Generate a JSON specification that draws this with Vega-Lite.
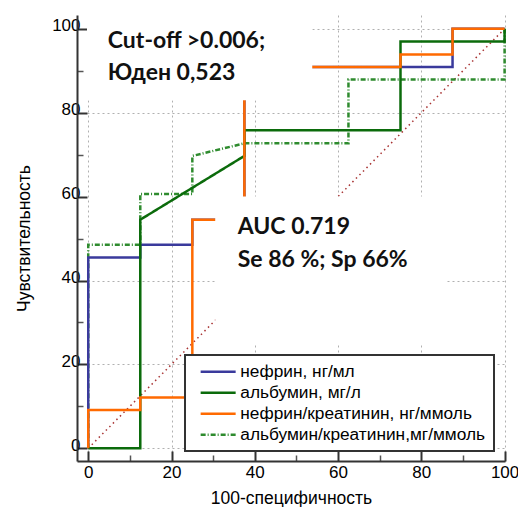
{
  "$schema": "https://vega.github.io/schema/vega-lite/v6.json",
  "width": 428,
  "height": 446,
  "autosize": {"type": "none"},
  "padding": {"left": 77, "top": 15, "right": 13, "bottom": 46},
  "background": "white",
  "config": {
    "view": {"stroke": null},
    "axis": {"labelFontSize": 17, "labelFont": "Liberation Sans", "titleFontSize": 17.5, "titleFont": "Liberation Sans"}
  },
  "datasets": {
    "roc": [
      {"series": "нефрин, нг/мл", "i": 1, "x": 0, "y": 0},
      {"series": "нефрин, нг/мл", "i": 2, "x": 0, "y": 45.5},
      {"series": "нефрин, нг/мл", "i": 3, "x": 12.5, "y": 45.5},
      {"series": "нефрин, нг/мл", "i": 4, "x": 12.5, "y": 48.5},
      {"series": "нефрин, нг/мл", "i": 5, "x": 25, "y": 48.5},
      {"series": "нефрин, нг/мл", "i": 6, "x": 25, "y": 54.5},
      {"series": "нефрин, нг/мл", "i": 7, "x": 37.5, "y": 54.5},
      {"series": "нефрин, нг/мл", "i": 8, "x": 37.5, "y": 90.9},
      {"series": "нефрин, нг/мл", "i": 9, "x": 75, "y": 90.9},
      {"series": "нефрин, нг/мл", "i": 10, "x": 87.5, "y": 90.9},
      {"series": "нефрин, нг/мл", "i": 11, "x": 87.5, "y": 93.9},
      {"series": "нефрин, нг/мл", "i": 12, "x": 87.5, "y": 100},
      {"series": "нефрин, нг/мл", "i": 13, "x": 100, "y": 100},
      {"series": "альбумин, мг/л", "i": 1, "x": 0, "y": 0},
      {"series": "альбумин, мг/л", "i": 2, "x": 12.5, "y": 0},
      {"series": "альбумин, мг/л", "i": 3, "x": 12.5, "y": 54.5},
      {"series": "альбумин, мг/л", "i": 4, "x": 37.5, "y": 69.7},
      {"series": "альбумин, мг/л", "i": 5, "x": 37.5, "y": 75.8},
      {"series": "альбумин, мг/л", "i": 6, "x": 75, "y": 75.8},
      {"series": "альбумин, мг/л", "i": 7, "x": 75, "y": 97},
      {"series": "альбумин, мг/л", "i": 8, "x": 100, "y": 97},
      {"series": "альбумин, мг/л", "i": 9, "x": 100, "y": 100},
      {"series": "нефрин/креатинин, нг/ммоль", "i": 1, "x": 0, "y": 0},
      {"series": "нефрин/креатинин, нг/ммоль", "i": 2, "x": 0, "y": 9.1},
      {"series": "нефрин/креатинин, нг/ммоль", "i": 3, "x": 12.5, "y": 9.1},
      {"series": "нефрин/креатинин, нг/ммоль", "i": 4, "x": 12.5, "y": 12.1},
      {"series": "нефрин/креатинин, нг/ммоль", "i": 5, "x": 25, "y": 12.1},
      {"series": "нефрин/креатинин, нг/ммоль", "i": 6, "x": 25, "y": 54.5},
      {"series": "нефрин/креатинин, нг/ммоль", "i": 7, "x": 37.5, "y": 54.5},
      {"series": "нефрин/креатинин, нг/ммоль", "i": 8, "x": 37.5, "y": 90.9},
      {"series": "нефрин/креатинин, нг/ммоль", "i": 9, "x": 75, "y": 90.9},
      {"series": "нефрин/креатинин, нг/ммоль", "i": 10, "x": 75, "y": 93.9},
      {"series": "нефрин/креатинин, нг/ммоль", "i": 11, "x": 87.5, "y": 93.9},
      {"series": "нефрин/креатинин, нг/ммоль", "i": 12, "x": 87.5, "y": 100},
      {"series": "нефрин/креатинин, нг/ммоль", "i": 13, "x": 100, "y": 100},
      {"series": "альбумин/креатинин,мг/ммоль", "i": 1, "x": 0, "y": 0},
      {"series": "альбумин/креатинин,мг/ммоль", "i": 2, "x": 0, "y": 48.5},
      {"series": "альбумин/креатинин,мг/ммоль", "i": 3, "x": 12.5, "y": 48.5},
      {"series": "альбумин/креатинин,мг/ммоль", "i": 4, "x": 12.5, "y": 60.6},
      {"series": "альбумин/креатинин,мг/ммоль", "i": 5, "x": 25, "y": 60.6},
      {"series": "альбумин/креатинин,мг/ммоль", "i": 6, "x": 25, "y": 69.7},
      {"series": "альбумин/креатинин,мг/ммоль", "i": 7, "x": 37.5, "y": 72.7},
      {"series": "альбумин/креатинин,мг/ммоль", "i": 8, "x": 62.5, "y": 72.7},
      {"series": "альбумин/креатинин,мг/ммоль", "i": 9, "x": 62.5, "y": 87.9},
      {"series": "альбумин/креатинин,мг/ммоль", "i": 10, "x": 100, "y": 87.9},
      {"series": "альбумин/креатинин,мг/ммоль", "i": 11, "x": 100, "y": 100}
    ],
    "diag": [
      {"x": 0, "y": 0},
      {"x": 100, "y": 100}
    ],
    "notes": [
      {"label": "Cut-off >0.006;"},
      {"label": "Юден 0,523"},
      {"label": "AUC 0.719"},
      {"label": "Se 86 %; Sp 66%"}
    ]
  },
  "layer": [
    {
      "data": {"name": "diag"},
      "mark": {"type": "line", "stroke": "#a83232", "strokeWidth": 1.5, "strokeDash": [1.5, 3.5]},
      "encoding": {
        "x": {
          "field": "x", "type": "quantitative",
          "scale": {"domain": [-2.7, 100.1], "nice": false, "zero": false},
          "axis": {
            "title": "100-специфичность",
            "titleFont": "Liberation Sans",
            "titleFontSize": 17.5,
            "titleFontWeight": "normal",
            "titleColor": "#000000",
            "labelFont": "Liberation Sans",
            "labelFontSize": 17,
            "labelColor": "#000000",
            "domainColor": "#333333",
            "domainWidth": 2,
            "gridColor": "#b0b0b0",
            "gridDash": [2, 3],
            "gridWidth": 1,
            "values": [0,5,10,15,20,25,30,35,40,45,50,55,60,65,70,75,80,85,90,95,100],
            "labelExpr": "datum.value % 20 === 0 ? datum.label : ''",
            "labelOverlap": false,
            "labelFlush": false,
            "tickSize": {"condition": {"test": "datum.value % 20 === 0", "value": -10}, "value": -6},
            "tickColor": {"condition": {"test": "datum.value % 20 === 0", "value": "#333333"}, "value": "#555555"},
            "tickWidth": {"condition": {"test": "datum.value % 20 === 0", "value": 2}, "value": 1.5},
            "gridOpacity": {"condition": {"test": "datum.value % 20 === 0", "value": 1}, "value": 0},
            "labelPadding": 13,
            "titlePadding": 5,
            "encode": {"labels": {"update": {"fontSize": {"value": 17}, "font": {"value": "Liberation Sans"}}}}
          }
        },
        "y": {
          "field": "y", "type": "quantitative",
          "scale": {"domain": [-3.03, 103.3], "nice": false, "zero": false},
          "axis": {
            "title": "Чувствительность",
            "titleFont": "Liberation Sans",
            "titleFontSize": 17.5,
            "titleFontWeight": "normal",
            "titleColor": "#000000",
            "labelFont": "Liberation Sans",
            "labelFontSize": 17,
            "labelColor": "#000000",
            "domainColor": "#333333",
            "domainWidth": 2,
            "gridColor": "#b0b0b0",
            "gridDash": [2, 3],
            "gridWidth": 1,
            "values": [0,5,10,15,20,25,30,35,40,45,50,55,60,65,70,75,80,85,90,95,100],
            "labelExpr": "datum.value % 20 === 0 ? datum.label : ''",
            "labelOverlap": false,
            "labelFlush": false,
            "labelOffset": -3,
            "tickSize": {"condition": {"test": "datum.value % 20 === 0", "value": -10}, "value": -6},
            "tickColor": {"condition": {"test": "datum.value % 20 === 0", "value": "#333333"}, "value": "#555555"},
            "tickWidth": {"condition": {"test": "datum.value % 20 === 0", "value": 2}, "value": 1.5},
            "gridOpacity": {"condition": {"test": "datum.value % 20 === 0 && datum.value !== 60", "value": 1}, "value": 0},
            "labelPadding": 7,
            "titlePadding": 18,
            "encode": {"labels": {"update": {"fontSize": {"value": 17}, "font": {"value": "Liberation Sans"}}}}
          }
        }
      }
    },
    {
      "data": {"name": "roc"},
      "transform": [{"filter": "datum.series === 'альбумин/креатинин,мг/ммоль'"}],
      "mark": {"type": "line"},
      "encoding": {
        "x": {"field": "x", "type": "quantitative", "title": "100-специфичность"},
        "y": {"field": "y", "type": "quantitative", "title": "Чувствительность"},
        "order": {"field": "i", "type": "quantitative"},
        "color": {
          "field": "series", "type": "nominal",
          "scale": {
            "domain": ["нефрин, нг/мл", "альбумин, мг/л", "нефрин/креатинин, нг/ммоль", "альбумин/креатинин,мг/ммоль"],
            "range": ["#3a3a9c", "#0b6b0b", "#ff6a00", "#2e8b2e"]
          },
          "legend": {
            "title": null,
            "orient": "none",
            "legendX": 108,
            "legendY": 340,
            "padding": 8,
            "fillColor": "white",
            "strokeColor": "#333333",
            "labelFont": "Liberation Sans",
            "labelFontSize": 17.3,
            "labelColor": "#000000",
            "labelLimit": 400,
            "symbolType": "M-0.2,0H6.8",
            "symbolSize": 100,
            "labelOffset": 30,
            "rowPadding": 3,
            "zindex": 2,
            "encode": {"legend": {"update": {"strokeWidth": {"value": 2}}}}
          }
        },
        "strokeDash": {
          "field": "series", "type": "nominal",
          "scale": {
            "domain": ["нефрин, нг/мл", "альбумин, мг/л", "нефрин/креатинин, нг/ммоль", "альбумин/креатинин,мг/ммоль"],
            "range": [[1, 0], [1, 0], [1, 0], [5, 2, 1, 2]]
          }
        },
        "strokeWidth": {
          "field": "series", "type": "nominal",
          "scale": {
            "domain": ["нефрин, нг/мл", "альбумин, мг/л", "нефрин/креатинин, нг/ммоль", "альбумин/креатинин,мг/ммоль"],
            "range": [2.5, 2.5, 3, 1.2]
          }
        }
      }
    },
    {
      "data": {"name": "roc"},
      "transform": [{"filter": "datum.series === 'нефрин, нг/мл'"}],
      "mark": {"type": "line"},
      "encoding": {
        "x": {"field": "x", "type": "quantitative", "title": "100-специфичность"},
        "y": {"field": "y", "type": "quantitative", "title": "Чувствительность"},
        "order": {"field": "i", "type": "quantitative"},
        "color": {"field": "series", "type": "nominal"},
        "strokeDash": {"field": "series", "type": "nominal"},
        "strokeWidth": {"field": "series", "type": "nominal"}
      }
    },
    {
      "data": {"name": "roc"},
      "transform": [{"filter": "datum.series === 'альбумин, мг/л'"}],
      "mark": {"type": "line"},
      "encoding": {
        "x": {"field": "x", "type": "quantitative", "title": "100-специфичность"},
        "y": {"field": "y", "type": "quantitative", "title": "Чувствительность"},
        "order": {"field": "i", "type": "quantitative"},
        "color": {"field": "series", "type": "nominal"},
        "strokeDash": {"field": "series", "type": "nominal"},
        "strokeWidth": {"field": "series", "type": "nominal"}
      }
    },
    {
      "data": {"name": "roc"},
      "transform": [{"filter": "datum.series === 'нефрин/креатинин, нг/ммоль'"}],
      "mark": {"type": "line"},
      "encoding": {
        "x": {"field": "x", "type": "quantitative", "title": "100-специфичность"},
        "y": {"field": "y", "type": "quantitative", "title": "Чувствительность"},
        "order": {"field": "i", "type": "quantitative"},
        "color": {"field": "series", "type": "nominal"},
        "strokeDash": {"field": "series", "type": "nominal"},
        "strokeWidth": {"field": "series", "type": "nominal"}
      }
    },
    {
      "data": {"name": "notes"},
      "transform": [{"filter": "datum.label === 'Cut-off >0.006;'"}],
      "mark": {"type": "rect", "fill": "white"},
      "encoding": {
        "x": {"datum": -0.3, "type": "quantitative"},
        "x2": {"datum": 53.8},
        "y": {"datum": 83, "type": "quantitative"},
        "y2": {"datum": 103.3}
      }
    },
    {
      "data": {"name": "notes"},
      "transform": [{"filter": "datum.label === 'AUC 0.719'"}],
      "mark": {"type": "rect", "fill": "white"},
      "encoding": {
        "x": {"datum": 30.5, "type": "quantitative"},
        "x2": {"datum": 86},
        "y": {"datum": 25, "type": "quantitative"},
        "y2": {"datum": 60}
      }
    },
    {
      "data": {"name": "notes"},
      "transform": [{"filter": "datum.label === 'Cut-off >0.006;'"}],
      "mark": {"type": "text", "font": "Lato", "fontWeight": "bold", "fontSize": 23, "align": "left", "baseline": "alphabetic", "color": "#111111"},
      "encoding": {"x": {"datum": 4.7, "type": "quantitative"}, "y": {"datum": 95.4, "type": "quantitative"}, "text": {"field": "label"}}
    },
    {
      "data": {"name": "notes"},
      "transform": [{"filter": "datum.label === 'Юден 0,523'"}],
      "mark": {"type": "text", "font": "Lato", "fontWeight": "bold", "fontSize": 23, "align": "left", "baseline": "alphabetic", "color": "#111111"},
      "encoding": {"x": {"datum": 4.7, "type": "quantitative"}, "y": {"datum": 87.8, "type": "quantitative"}, "text": {"field": "label"}}
    },
    {
      "data": {"name": "notes"},
      "transform": [{"filter": "datum.label === 'AUC 0.719'"}],
      "mark": {"type": "text", "font": "Lato", "fontWeight": "bold", "fontSize": 23, "align": "left", "baseline": "alphabetic", "color": "#111111"},
      "encoding": {"x": {"datum": 35.9, "type": "quantitative"}, "y": {"datum": 51.0, "type": "quantitative"}, "text": {"field": "label"}}
    },
    {
      "data": {"name": "notes"},
      "transform": [{"filter": "datum.label === 'Se 86 %; Sp 66%'"}],
      "mark": {"type": "text", "font": "Lato", "fontWeight": "bold", "fontSize": 23, "align": "left", "baseline": "alphabetic", "color": "#111111"},
      "encoding": {"x": {"datum": 35.9, "type": "quantitative"}, "y": {"datum": 43.2, "type": "quantitative"}, "text": {"field": "label"}}
    }
  ]
}
